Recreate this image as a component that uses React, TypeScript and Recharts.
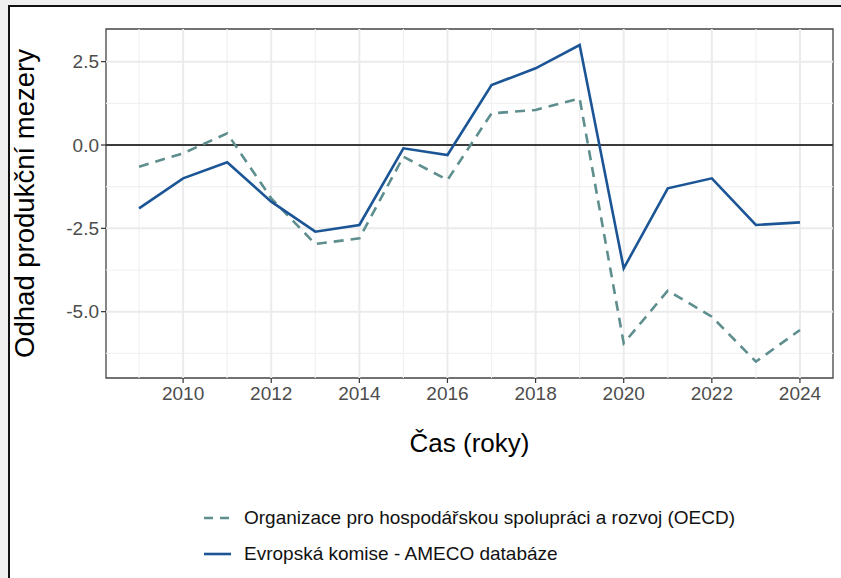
import { LineChart, Line, XAxis, YAxis, ReferenceLine, ReferenceArea, Label } from 'recharts';

const years = [2009, 2010, 2011, 2012, 2013, 2014, 2015, 2016, 2017, 2018, 2019, 2020, 2021, 2022, 2023, 2024];
const oecd = [-0.65, -0.25, 0.35, -1.6, -2.97, -2.8, -0.35, -1.05, 0.95, 1.05, 1.4, -5.95, -4.37, -5.15, -6.5, -5.55];
const ameco = [-1.9, -1.0, -0.52, -1.7, -2.6, -2.4, -0.1, -0.3, 1.8, 2.3, 3.0, -3.7, -1.3, -1.0, -2.4, -2.32];

const xTicks = [2010, 2012, 2014, 2016, 2018, 2020, 2022, 2024];
const xMinor = [2009, 2011, 2013, 2015, 2017, 2019, 2021, 2023];
const yTicks = [-5, -2.5, 0, 2.5];
const yMinor = [-6.25, -3.75, -1.25, 1.25];
const xDomain = [2008.25, 2024.75];
const yDomain = [-6.99, 3.48];

const oecdName = 'Organizace pro hospodářskou spolupráci a rozvoj (OECD)';
const amecoName = 'Evropská komise - AMECO databáze';

const data = years.map((year, i) => ({ year, oecd: oecd[i], ameco: ameco[i] }));

const FONT = '"Liberation Sans", Arial, sans-serif';
const OECD_COLOR = '#5e8e8e';
const AMECO_COLOR = '#1c5595';

const legendItems = [
  { name: oecdName, color: OECD_COLOR, dash: '9 7' },
  { name: amecoName, color: AMECO_COLOR, dash: undefined },
];

export default function App() {
  return (
    <div style={{ position: 'absolute', left: 0, top: 0, width: 841, height: 578, background: '#efefef', overflow: 'hidden', fontFamily: FONT }}>
      <div style={{ position: 'absolute', left: 8, top: 5, width: 900, height: 700, borderLeft: '2.5px solid #111', borderTop: '2.5px solid #111', background: '#fff' }} />
      <div style={{ position: 'absolute', left: 0, top: 0 }}>
        <LineChart width={841} height={578} data={data} margin={{ top: 29, right: 8, left: 0, bottom: 170 }}>
          {xMinor.map((v) => (
            <ReferenceLine key={'xm' + v} x={v} stroke="#f1f1f1" strokeWidth={1.2} />
          ))}
          {yMinor.map((v) => (
            <ReferenceLine key={'ym' + v} y={v} stroke="#f1f1f1" strokeWidth={1.2} />
          ))}
          {xTicks.map((v) => (
            <ReferenceLine key={'x' + v} x={v} stroke="#ebebeb" strokeWidth={2} />
          ))}
          {yTicks.map((v) => (
            <ReferenceLine key={'y' + v} y={v} stroke="#ebebeb" strokeWidth={2} />
          ))}
          <ReferenceLine y={0} stroke="#000" strokeWidth={1.3} />
          <XAxis
            dataKey="year"
            type="number"
            domain={xDomain}
            ticks={xTicks}
            allowDataOverflow
            height={30}
            axisLine={false}
            tickSize={5}
            tickMargin={4}
            tickLine={{ stroke: '#333', strokeWidth: 1.2 }}
            tick={{ fill: '#4d4d4d', fontSize: 19, fontFamily: FONT }}
          >
            <Label value="Čas (roky)" position="bottom" offset={26} style={{ fill: '#000', fontSize: 26, fontFamily: FONT }} />
          </XAxis>
          <YAxis
            type="number"
            domain={yDomain}
            ticks={yTicks}
            allowDataOverflow
            width={106}
            axisLine={false}
            tickSize={5}
            tickMargin={2}
            tickLine={{ stroke: '#333', strokeWidth: 1.2 }}
            tickFormatter={(v: number) => v.toFixed(1)}
            tick={{ fill: '#4d4d4d', fontSize: 19, fontFamily: FONT }}
          >
            <Label
              value="Odhad produkční mezery"
              angle={-90}
              position="insideLeft"
              offset={24}
              style={{ fill: '#000', fontSize: 27.5, fontFamily: FONT, textAnchor: 'middle' }}
            />
          </YAxis>
          <ReferenceArea x1={xDomain[0]} x2={xDomain[1]} y1={yDomain[0]} y2={yDomain[1]} fill="none" stroke="#444" strokeWidth={1.3} />
          <Line
            type="linear"
            dataKey="oecd"
            name={oecdName}
            stroke={OECD_COLOR}
            strokeWidth={2.6}
            strokeDasharray="10 7"
            dot={false}
            activeDot={false}
            isAnimationActive={false}
          />
          <Line
            type="linear"
            dataKey="ameco"
            name={amecoName}
            stroke={AMECO_COLOR}
            strokeWidth={2.6}
            dot={false}
            activeDot={false}
            isAnimationActive={false}
          />
        </LineChart>
      </div>
      <div style={{ position: 'absolute', left: 200, top: 500 }}>
        {legendItems.map((item) => (
          <div key={item.name} style={{ display: 'flex', alignItems: 'center', height: 36 }}>
            <svg width={34} height={10} style={{ marginRight: 10 }}>
              <line x1={4} x2={31} y1={5} y2={5} stroke={item.color} strokeWidth={2.6} strokeDasharray={item.dash} />
            </svg>
            <span style={{ fontSize: 19, color: '#111', whiteSpace: 'nowrap' }}>{item.name}</span>
          </div>
        ))}
      </div>
    </div>
  );
}
